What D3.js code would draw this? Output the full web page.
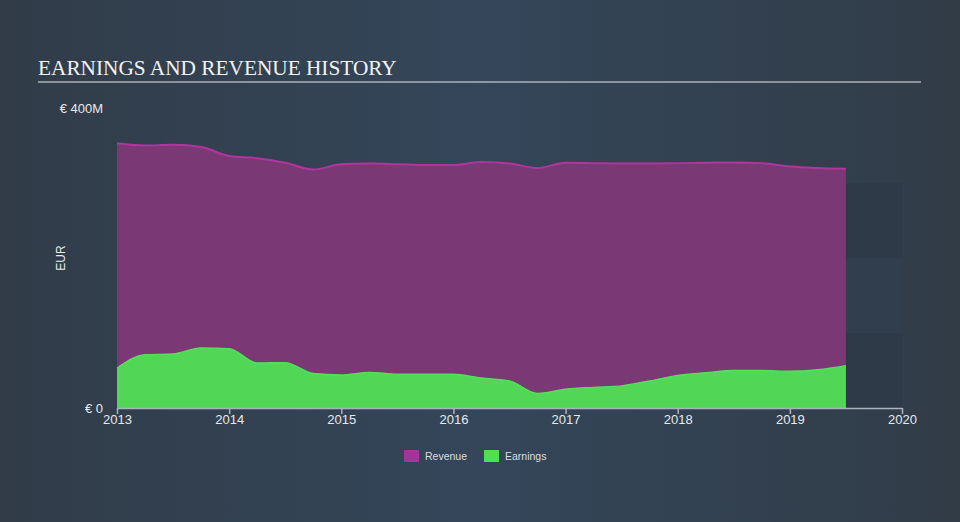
<!DOCTYPE html>
<html>
<head>
<meta charset="utf-8">
<script src="https://cdn.jsdelivr.net/npm/d3@7"></script>
<style>
html,body{margin:0;padding:0;background:#33414f;}
svg{display:block;}
</style>
</head>
<body>
<svg id="chart" width="960" height="522"></svg>
<script>
const dates = [2013.0,2013.25,2013.5,2013.75,2014.0,2014.25,2014.5,2014.75,2015.0,2015.25,2015.5,2015.75,2016.0,2016.25,2016.5,2016.75,2017.0,2017.25,2017.5,2017.75,2018.0,2018.25,2018.5,2018.75,2019.0,2019.25,2019.5];
const revenue = [353,350,351,348,336,333,327,318,325,326,325,324,324,328,326,320,327,326.5,326,326,326.5,327,327.5,326.5,322,320,319];
const earnings = [53,71,72,80,79,60,60.5,46,44,47.5,45,45,45,40,36,19.5,25,27.5,29.5,36,43.5,47,50,50,49,51,56.5];
const xTicks = [2013,2014,2015,2016,2017,2018,2019,2020];
const yTicks = [0,400];
const yTickLabels = ["€ 0","€ 400M"];
const legendLabels = ["Revenue","Earnings"];

const svg = d3.select("#chart");
const W = 960, H = 522;

const defs = svg.append("defs");
const bg = defs.append("linearGradient").attr("id","bg").attr("x1","0").attr("x2","1").attr("y1","0").attr("y2","0");
bg.append("stop").attr("offset","0%").attr("stop-color","#313c48");
bg.append("stop").attr("offset","50%").attr("stop-color","#34465a");
bg.append("stop").attr("offset","100%").attr("stop-color","#313c47");
svg.append("rect").attr("width",W).attr("height",H).attr("fill","url(#bg)");

const x = d3.scaleLinear().domain([2013,2020]).range([117,902]);
const y = d3.scaleLinear().domain([0,400]).range([408,108]);

svg.append("text").attr("x",38).attr("y",75)
  .attr("font-family","'Liberation Serif','Times New Roman',serif")
  .attr("font-size",21.3).attr("fill","#f2f2f2")
  .text("EARNINGS AND REVENUE HISTORY");
svg.append("line").attr("x1",38).attr("x2",921).attr("y1",82).attr("y2",82)
  .attr("stroke","#aab1b9").attr("stroke-width",1.5);

const lastX = x(dates[dates.length-1]);
const bands = [[183,258,"#2e3a48"],[258,333,"#313e4d"],[333,408,"#2e3a48"]];
bands.forEach(b=>{
  svg.append("rect").attr("x",lastX).attr("width",x(2020)-lastX)
    .attr("y",b[0]).attr("height",b[1]-b[0]).attr("fill",b[2]);
});

const data = dates.map((d,i)=>({d, r:revenue[i], e:earnings[i]}));
const curve = d3.curveMonotoneX;

const revArea = d3.area().x(d=>x(d.d)).y0(y(0)).y1(d=>y(d.r)).curve(curve);
const revLine = d3.line().x(d=>x(d.d)).y(d=>y(d.r)).curve(curve);
const earnArea = d3.area().x(d=>x(d.d)).y0(y(0)).y1(d=>y(d.e)).curve(curve);
const earnLine = d3.line().x(d=>x(d.d)).y(d=>y(d.e)).curve(curve);

svg.append("path").datum(data).attr("d",revArea).attr("fill","#7a3874");
svg.append("path").datum(data).attr("d",revLine).attr("fill","none").attr("stroke","#b1359f").attr("stroke-width",2);
svg.append("path").datum(data).attr("d",earnArea).attr("fill","#52d656");
svg.append("path").datum(data).attr("d",earnLine).attr("fill","none").attr("stroke","#56e05a").attr("stroke-width",1.5);

const xAxis = d3.axisBottom(x).tickValues(xTicks).tickFormat(d3.format("d")).tickSize(6).tickSizeOuter(0);
const gx = svg.append("g").attr("transform","translate(0,408)").call(xAxis);
gx.select(".domain").attr("stroke","#aab4bf").attr("stroke-width",1.5);
gx.selectAll(".tick line").attr("stroke","#aab4bf").attr("stroke-width",1.5);
gx.selectAll(".tick text").attr("fill","#e6e9ec").attr("font-size",13)
  .attr("font-family","'Liberation Sans',Arial,sans-serif").attr("dy","0.85em").attr("y",5);

svg.selectAll(".ylab").data(yTicks).enter().append("text")
  .attr("x",103).attr("y",d=>y(d)).attr("dy","0.35em")
  .attr("text-anchor","end").attr("fill","#e6e9ec")
  .attr("font-family","'Liberation Sans',Arial,sans-serif").attr("font-size",13)
  .text((d,i)=>yTickLabels[i]);

svg.append("text").attr("transform","translate(65,258) rotate(-90)")
  .attr("text-anchor","middle").attr("fill","#e6e9ec")
  .attr("font-family","'Liberation Sans',Arial,sans-serif").attr("font-size",12)
  .text("EUR");

const legColors = ["#a3359a","#4fe04f"];
const legX = [404,484];
legendLabels.forEach((l,i)=>{
  svg.append("rect").attr("x",legX[i]).attr("y",450).attr("width",15).attr("height",12).attr("fill",legColors[i]);
  svg.append("text").attr("x",legX[i]+21).attr("y",456).attr("dy","0.35em")
    .attr("fill","#d9dde1").attr("font-family","'Liberation Sans',Arial,sans-serif").attr("font-size",10.5)
    .text(l);
});
</script>
</body>
</html>
